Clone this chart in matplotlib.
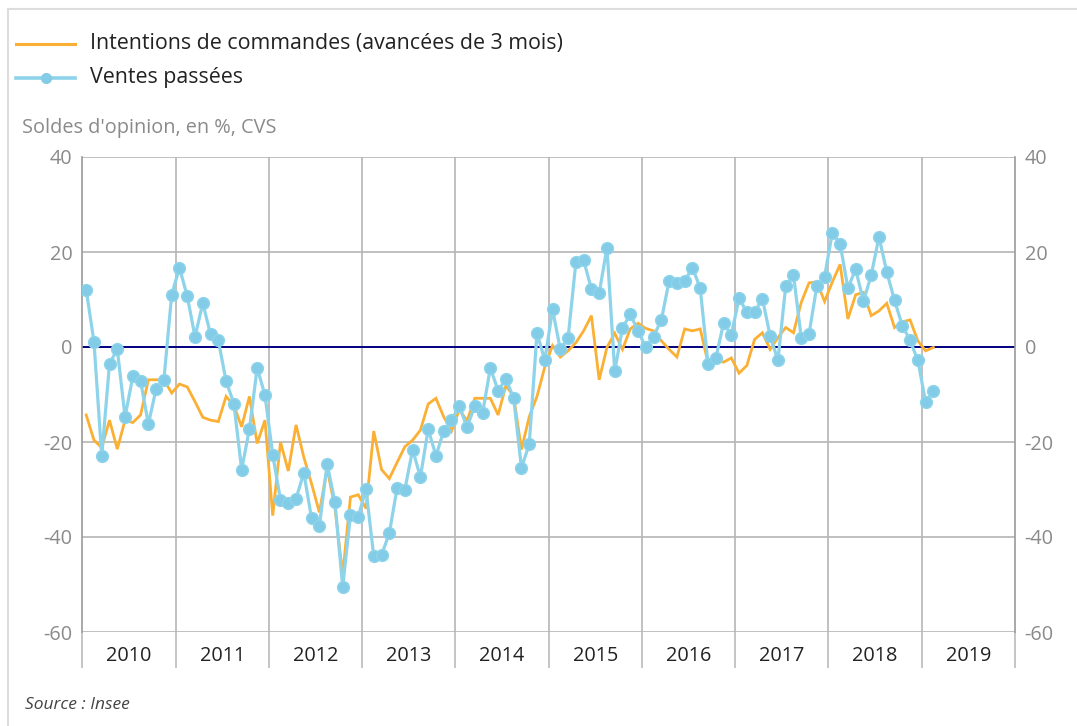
import matplotlib
matplotlib.use("Agg")
import matplotlib.pyplot as plt
from matplotlib.lines import Line2D
import numpy as np

plt.rcParams['font.family'] = ['Open Sans', 'DejaVu Sans']

years = ["2010", "2011", "2012", "2013", "2014", "2015", "2016", "2017", "2018", "2019"]

# Monthly values, Jan 2010 -> Feb 2019
ventes = [12.1, 1.1, -23.0, -3.5, -0.5, -14.7, -6.2, -7.2, -16.2, -8.8, -6.9, 11.0,
          16.7, 10.7, 2.2, 9.2, 2.7, 1.4, -7.2, -11.9, -25.8, -17.3, -4.4, -10.1,
          -22.7, -32.2, -32.9, -31.9, -26.5, -36.1, -37.7, -24.6, -32.6, -50.5, -35.4, -35.7,
          -29.9, -44.1, -43.8, -39.2, -29.7, -30.0, -21.6, -27.4, -17.3, -22.9, -17.7, -15.4,
          -12.4, -16.9, -12.4, -13.9, -4.4, -9.2, -6.7, -10.8, -25.4, -20.5, 3.0, -2.8,
          7.9, -0.5, 1.9, 17.8, 18.3, 12.2, 11.3, 20.9, -5.1, 4.0, 6.9, 3.4,
          -0.1, 2.2, 5.7, 13.9, 13.5, 13.9, 16.7, 12.4, -3.5, -2.4, 5.0, 2.6,
          10.3, 7.3, 7.3, 10.2, 2.3, -2.8, 12.8, 15.2, 1.9, 2.7, 12.8, 14.8,
          24.1, 21.7, 12.4, 16.4, 9.6, 15.1, 23.2, 15.8, 9.8, 4.5, 1.4, -2.8,
          -11.6, -9.3]

intentions = [-14.3, -19.6, -21.2, -15.4, -21.5, -15.4, -15.9, -14.3, -6.9, -6.9, -6.9, -9.7,
              -7.8, -8.4, -11.5, -14.8, -15.4, -15.7, -10.4, -12.3, -16.8, -10.4, -20.3, -15.4,
              -35.5, -20.0, -26.1, -16.4, -23.2, -28.8, -34.8, -25.6, -33.8, -47.9, -31.6, -31.1,
              -34.0, -17.7, -25.8, -27.7, -24.3, -21.0, -19.6, -17.5, -12.0, -10.8, -14.7, -17.7,
              -13.2, -15.5, -10.8, -10.8, -10.8, -14.3, -8.1, -10.4, -21.6, -14.7, -10.4, -4.2,
              0.3, -2.1, -0.8, 0.9, 3.4, 6.6, -6.9, -0.1, 2.9, -0.5, 3.8, 5.0,
              3.9, 3.4, 1.3, -0.5, -2.1, 3.8, 3.4, 3.8, -3.3, -2.6, -3.2, -2.3,
              -5.5, -3.9, 1.6, 3.0, -0.5, 2.0, 4.1, 3.0, 9.4, 13.5, 13.7, 9.6,
              13.7, 17.4, 5.9, 11.0, 11.5, 6.6, 7.6, 9.2, 4.1, 5.3, 5.7, 1.3,
              -0.8, -0.1]

yticks = [40, 20, 0, -20, -40, -60]

W, H = 1077, 726
fig = plt.figure(figsize=(W / 100, H / 100), dpi=100)
fig.patch.set_facecolor('white')

left, right, top, bottom = 82.3, 1015.0, 157.0, 632.0
ax = fig.add_axes([left / W, 1 - bottom / H, (right - left) / W, (bottom - top) / H])

x_v = np.arange(len(ventes)) + 0.5
x_i = np.arange(len(intentions)) + 0.5
nmonths = 12 * len(years)

grid_c = '#b5b5b5'
ax.set_xlim(0, nmonths)
ax.set_ylim(-60, 40)

for yv in yticks:
    if yv != 0:
        ax.axhline(yv, color=grid_c, lw=1.2, zorder=1)
for k in range(1, len(years)):
    ax.axvline(12 * k, color=grid_c, lw=1.2, zorder=1)
ax.axhline(0, color='#000080', lw=1.4, zorder=2)

orange = '#FBB034'
blue = '#8DD3EA'
ax.plot(x_i, intentions, color=orange, lw=2.0, zorder=3, solid_joinstyle='miter')
ax.plot(x_v, ventes, color=blue, lw=2.3, marker='o', markersize=8.5,
        markerfacecolor='#83CCE8', markeredgecolor='#8DD3EA', zorder=4)

for s in ['top', 'bottom']:
    ax.spines[s].set_visible(False)
for s in ['left', 'right']:
    ax.spines[s].set_color('#999999')
    ax.spines[s].set_linewidth(1.2)

ax.set_yticks(yticks)
ax.set_yticklabels([str(v) for v in yticks])
ax.tick_params(axis='y', which='both', length=0, pad=7, labelsize=14.3,
               labelcolor='#8a8a8a', left=False, right=False,
               labelleft=True, labelright=True)

ax.set_xticks([12 * k for k in range(len(years) + 1)])
ax.set_xticklabels([])
ax.set_xticks([12 * k + 6 for k in range(len(years))], minor=True)
ax.set_xticklabels(years, minor=True)
ax.tick_params(axis='x', which='major', length=26, width=1.1, color=grid_c, direction='out')
ax.tick_params(axis='x', which='minor', length=0, pad=10, labelsize=14.3, labelcolor='#222222')

# Legend
def fx(px):
    return px / W

def fy(py):
    return 1 - py / H

fig.add_artist(Line2D([fx(16), fx(75)], [fy(43.5), fy(43.5)], color=orange, lw=2.2))
fig.add_artist(Line2D([fx(16), fx(75)], [fy(78), fy(78)], color=blue, lw=2.6))
fig.add_artist(Line2D([fx(46)], [fy(78)], color=blue, marker='o', markersize=7,
                      markerfacecolor='#83CCE8', markeredgecolor='#83CCE8'))
fig.text(fx(90), fy(43.5), "Intentions de commandes (avancées de 3 mois)",
         fontsize=15.4, color='#222222', va='center', ha='left')
fig.text(fx(90), fy(78), "Ventes passées",
         fontsize=15.4, color='#222222', va='center', ha='left')
fig.text(fx(22), fy(128), "Soldes d'opinion, en %, CVS",
         fontsize=14.3, color='#8a8a8a', va='center', ha='left')
fig.text(fx(25), fy(705), "Source : Insee", fontsize=12.5, style='italic',
         color='#444444', va='center', ha='left')

# Frame border
fig.add_artist(Line2D([fx(7.5), fx(7.5)], [fy(9), fy(726)], color='#dddddd', lw=1.5))
fig.add_artist(Line2D([fx(7.5), fx(1077)], [fy(9), fy(9)], color='#dddddd', lw=1.5))

fig.savefig("out.png", dpi=100, facecolor='white')
